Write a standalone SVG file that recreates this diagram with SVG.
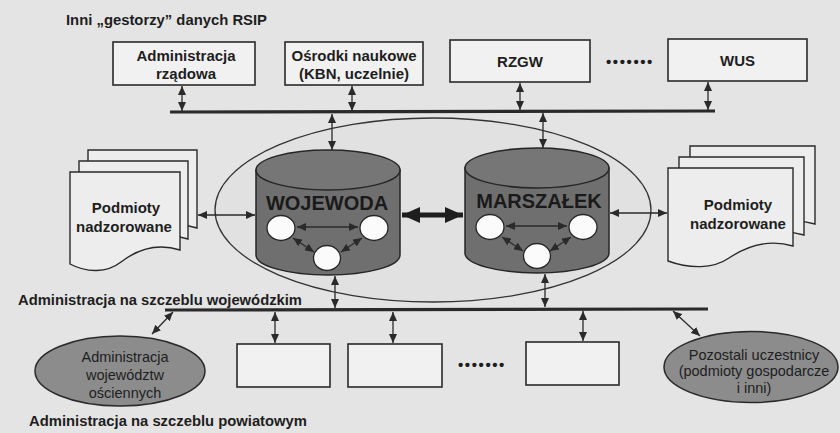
<svg xmlns="http://www.w3.org/2000/svg" width="840" height="433" viewBox="0 0 840 433">
  <style>
    .lbl { font-family: "Liberation Sans", Arial, sans-serif; font-weight: bold; fill: #1e1e1e; }
    .big { font-family: "Liberation Sans", Arial, sans-serif; font-weight: bold; fill: #1a1a1a; font-size: 20px; }
    .thin { font-family: "Liberation Sans", Arial, sans-serif; fill: #1e1e1e; font-size: 14.5px; }
    .dots { font-family: "Liberation Sans", Arial, sans-serif; font-weight: bold; fill: #1e1e1e; font-size: 15px; letter-spacing: 1.6px; }
    .box { fill: #f1f1f1; stroke: #2a2a2a; stroke-width: 1.6; }
    .page { fill: #ededed; stroke: #2a2a2a; stroke-width: 1.4; }
    .cyl { fill: #6f6f6f; stroke: #262626; stroke-width: 1.5; }
    .cyltop { fill: #767676; stroke: #262626; stroke-width: 1.5; }
    .dot { fill: #fbfbfb; stroke: #262626; stroke-width: 1.3; }
    .oval { fill: #8c8c8c; stroke: #2a2a2a; stroke-width: 1.5; }
    .bus { stroke: #2a2a2a; stroke-width: 3.2; fill: none; }
    .link { stroke: #2a2a2a; stroke-width: 1.3; fill: none; marker-start: url(#ah); marker-end: url(#ah); }
    .thick { stroke: #1e1e1e; stroke-width: 5; fill: none; marker-start: url(#ahBig); marker-end: url(#ahBig); }
  </style>
  <defs>
    <marker id="ah" markerUnits="userSpaceOnUse" markerWidth="9" markerHeight="8" refX="9" refY="4" orient="auto-start-reverse">
      <path d="M0,0 L9,4 L0,8 Z" fill="#2a2a2a"/>
    </marker>
    <marker id="ahBig" markerUnits="userSpaceOnUse" markerWidth="18" markerHeight="16" refX="18" refY="8" orient="auto-start-reverse">
      <path d="M0,0 L18,8 L0,16 Z" fill="#1e1e1e"/>
    </marker>
  </defs>

  <rect width="840" height="433" fill="#e4e4e4"/>

  <!-- headings -->
  <text class="lbl" x="66" y="25" font-size="14" textLength="201" lengthAdjust="spacingAndGlyphs">Inni „gestorzy” danych RSIP</text>
  <text class="lbl" x="18" y="305" font-size="14" textLength="284" lengthAdjust="spacingAndGlyphs">Administracja na szczeblu wojewódzkim</text>
  <text class="lbl" x="29" y="426" font-size="14" textLength="278" lengthAdjust="spacingAndGlyphs">Administracja na szczeblu powiatowym</text>

  <!-- top row: other data holders -->
  <g id="adm-rzadowa">
    <rect class="box" x="113" y="42" width="142" height="43"/>
    <text class="lbl" x="186" y="61" font-size="15" text-anchor="middle">Administracja</text>
    <text class="lbl" x="186" y="79" font-size="15" text-anchor="middle">rządowa</text>
  </g>
  <g id="osrodki">
    <rect class="box" x="285" y="42" width="138" height="43"/>
    <text class="lbl" x="354" y="61" font-size="15" text-anchor="middle">Ośrodki naukowe</text>
    <text class="lbl" x="354" y="79" font-size="15" text-anchor="middle">(KBN, uczelnie)</text>
  </g>
  <g id="rzgw">
    <rect class="box" x="450" y="40" width="140" height="42"/>
    <text class="lbl" x="520" y="67" font-size="15" text-anchor="middle">RZGW</text>
  </g>
  <g id="dots-top">
    <text class="dots" x="630" y="67" text-anchor="middle">•••••••</text>
  </g>
  <g id="wus">
    <rect class="box" x="668" y="39" width="139" height="42"/>
    <text class="lbl" x="737.5" y="66" font-size="15" text-anchor="middle">WUS</text>
  </g>

  <!-- regional scope -->
  <g id="region">
    <ellipse cx="433" cy="210" rx="218" ry="92" fill="#e1e1e1" stroke="#333" stroke-width="1.3"/>
  </g>

  <g id="wojewoda">
    <path class="cyl" d="M256,170 V255 A72,20 0 0 0 400,255 V170 Z"/>
    <ellipse class="cyltop" cx="328" cy="170" rx="72" ry="20"/>
    <text class="big" x="327" y="210" text-anchor="middle">WOJEWODA</text>
    <ellipse class="dot" cx="281" cy="228" rx="14" ry="12.5"/>
    <ellipse class="dot" cx="374" cy="228" rx="14" ry="12.5"/>
    <ellipse class="dot" cx="327" cy="258" rx="13.5" ry="12.5"/>
    <line class="link" x1="297" y1="227" x2="358" y2="227"/>
    <line class="link" x1="293" y1="238" x2="314" y2="252"/>
    <line class="link" x1="362" y1="238" x2="341" y2="252"/>
  </g>

  <g id="marszalek">
    <path class="cyl" d="M465,168 V253 A72,20 0 0 0 609,253 V168 Z"/>
    <ellipse class="cyltop" cx="537" cy="168" rx="72" ry="20"/>
    <text class="big" x="539" y="208" text-anchor="middle">MARSZAŁEK</text>
    <ellipse class="dot" cx="490" cy="227" rx="14" ry="12.5"/>
    <ellipse class="dot" cx="583" cy="227" rx="14" ry="12.5"/>
    <ellipse class="dot" cx="537" cy="256" rx="13.5" ry="12.5"/>
    <line class="link" x1="506" y1="226" x2="567" y2="226"/>
    <line class="link" x1="502" y1="237" x2="523" y2="251"/>
    <line class="link" x1="571" y1="237" x2="550" y2="251"/>
  </g>

  <g id="podmioty-left">
    <path class="page" d="M88,150 H197 V228 C172,220 152,230 139,240 C125,250 105,250 88,242 Z"/>
    <path class="page" d="M79,161 H188 V239 C163,231 143,241 130,251 C116,261 96,261 79,253 Z"/>
    <path class="page" d="M70,172 H180 V250 C154,242 134,252 121,262 C107,273 87,273 70,264 Z"/>
    <text class="lbl" x="126" y="213" font-size="15" text-anchor="middle">Podmioty</text>
    <text class="lbl" x="124" y="232" font-size="15" text-anchor="middle">nadzorowane</text>
  </g>

  <g id="podmioty-right">
    <path class="page" d="M690,146 H815 V224 C788,216 766,226 751,236 C735,246 712,246 690,238 Z"/>
    <path class="page" d="M679,157 H804 V235 C777,227 755,237 740,247 C724,257 701,257 679,249 Z"/>
    <path class="page" d="M668,168 H793 V246 C766,238 744,248 729,258 C713,269 690,269 668,261 Z"/>
    <text class="lbl" x="738" y="210" font-size="15" text-anchor="middle">Podmioty</text>
    <text class="lbl" x="738" y="229" font-size="15" text-anchor="middle">nadzorowane</text>
  </g>

  <!-- county level -->
  <g id="sasiednie">
    <ellipse class="oval" cx="120" cy="371" rx="85" ry="35"/>
    <text class="thin" x="125" y="362" text-anchor="middle">Administracja</text>
    <text class="thin" x="125" y="380" text-anchor="middle">województw</text>
    <text class="thin" x="125" y="398" text-anchor="middle">ościennych</text>
  </g>
  <g id="powiat-1"><rect class="box" x="237" y="344" width="93" height="43"/></g>
  <g id="powiat-2"><rect class="box" x="348" y="344" width="94" height="43"/></g>
  <g id="dots-bottom">
    <text class="dots" x="482" y="370" text-anchor="middle">•••••••</text>
  </g>
  <g id="powiat-3"><rect class="box" x="526" y="342" width="93" height="43"/></g>
  <g id="pozostali">
    <ellipse class="oval" cx="751" cy="367" rx="87" ry="35.5"/>
    <text class="thin" x="754" y="360" text-anchor="middle">Pozostali uczestnicy</text>
    <text class="thin" x="754" y="376" text-anchor="middle">(podmioty gospodarcze</text>
    <text class="thin" x="754" y="393" text-anchor="middle">i inni)</text>
  </g>

  <!-- connectors -->
  <g id="connectors">
    <line class="bus" x1="170" y1="112" x2="715" y2="111"/>
    <line class="bus" x1="165" y1="310" x2="708" y2="309"/>

    <line class="link" x1="182" y1="86" x2="182" y2="111"/>
    <line class="link" x1="352" y1="86" x2="352" y2="111"/>
    <line class="link" x1="520" y1="83" x2="520" y2="110"/>
    <line class="link" x1="708" y1="82" x2="708" y2="110"/>

    <line class="link" x1="332" y1="114" x2="332" y2="150"/>
    <line class="link" x1="543" y1="113" x2="543" y2="148"/>

    <line class="link" x1="198" y1="215" x2="255" y2="215"/>
    <line class="link" x1="610" y1="213" x2="667" y2="213"/>
    <line class="thick" x1="402" y1="215" x2="463" y2="215"/>

    <line class="link" x1="335" y1="276" x2="335" y2="308"/>
    <line class="link" x1="545" y1="274" x2="545" y2="307"/>

    <line class="link" x1="173" y1="312" x2="152" y2="334"/>
    <line class="link" x1="275" y1="312" x2="275" y2="343"/>
    <line class="link" x1="393" y1="312" x2="393" y2="343"/>
    <line class="link" x1="583" y1="311" x2="583" y2="341"/>
    <line class="link" x1="673" y1="311" x2="700" y2="336"/>
  </g>
</svg>
